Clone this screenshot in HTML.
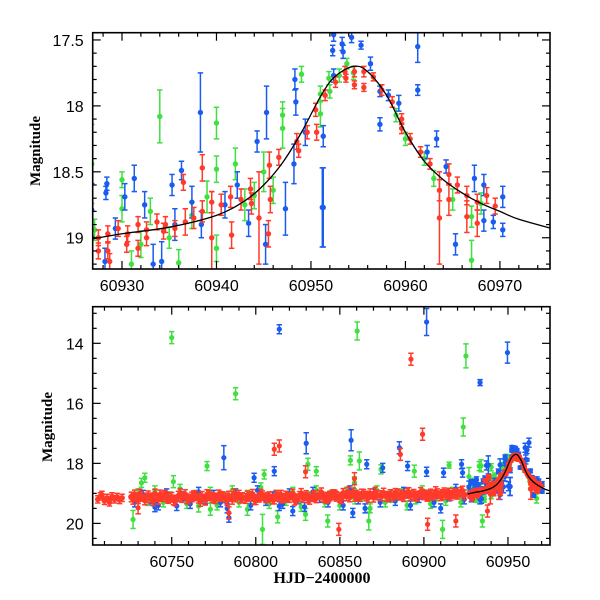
<!DOCTYPE html>
<html><head><meta charset="utf-8">
<style>
html,body{margin:0;padding:0;background:#fff;}
svg{display:block;}
text{font-family:"Liberation Sans",sans-serif;fill:#000;}
</style></head>
<body>
<svg id="chart" width="600" height="600" viewBox="0 0 600 600" xmlns="http://www.w3.org/2000/svg">
<defs>
<clipPath id="clipTop"><rect x="92.7" y="32.7" width="457.3" height="236.3"/></clipPath>
<clipPath id="clipBot"><rect x="92.7" y="306.7" width="457.3" height="238.3"/></clipPath>
</defs>
<g id="topPanel"></g>
<g id="botPanel"></g>
<text x="0" y="0" transform="translate(40,151) rotate(-90)" text-anchor="middle" style="font-family:'Liberation Serif',serif;font-weight:bold;font-size:15px">Magnitude</text>
<text x="0" y="0" transform="translate(52,427) rotate(-90)" text-anchor="middle" style="font-family:'Liberation Serif',serif;font-weight:bold;font-size:15px">Magnitude</text>
<text x="322" y="583" text-anchor="middle" style="font-family:'Liberation Serif',serif;font-weight:bold;font-size:16px">HJD−2400000</text>
</svg>
<script>
// ---------- data: top panel (zoom) ----------
const greenDays=[60926.8,60927.1,60930,60930,60931,60932,60933,60934,60935,60936,60937.4,60939,60940,60940,60940,60942,60943,60944,60945,60946,60947,60947,60949,60951,60951,60951.9,60952,60953,60953.8,60954.5,60959,60960,60962,60963,60965,60967,60967,60968];
const greenMags=[18.44,18.94,18.56,18.78,19.2,19.05,18.8,18.08,19.0,19.19,18.83,18.69,18.13,18.48,19.08,18.44,18.75,18.68,18.5,18.64,18.07,18.17,17.76,17.91,18.06,17.79,17.89,17.77,17.68,17.75,18.07,18.25,18.4,18.55,18.71,18.84,19.17,18.74];
const greenErrs=[0.3,0.08,0.06,0.1,0.1,0.1,0.1,0.2,0.08,0.1,0.1,0.12,0.12,0.1,0.1,0.12,0.12,0.1,0.15,0.1,0.1,0.15,0.06,0.06,0.1,0.05,0.05,0.05,0.04,0.05,0.05,0.05,0.05,0.06,0.08,0.08,0.15,0.08];

const blueDays=[60926.8,60928.2,60928.3,60928.4,60929.3,60930.3,60931.3,60932.4,60933.3,60934.2,60935.3,60935.6,60936.3,60937.4,60938.3,60938.4,60940.9,60942.2,60943.4,60944.3,60945.2,60945.3,60947.3,60948.2,60948.3,60948.4,60949.4,60951.2,60951.3,60951.3,60952.3,60952.4,60952.4,60953.3,60953.4,60954.3,60955.3,60956.3,60957.3,60957.3,60958.2,60959.3,60961.3,60961.3,60962.3,60963.3,60964.3,60965.3,60967.3,60968.3,60968.3,60969.3,60970.3,60970.3];
const blueMags=[18.79,19.18,18.66,18.59,18.93,18.69,18.55,18.75,19.2,19.18,18.6,18.9,18.49,18.73,18.05,18.9,18.75,18.6,18.89,18.27,19.05,18.05,18.78,18.44,17.8,17.97,18.2,18.77,18.23,18.77,17.58,17.46,17.77,17.53,17.59,17.48,17.54,17.68,18.14,17.89,17.92,17.98,17.88,17.55,18.35,18.25,18.46,19.05,18.55,18.6,18.87,18.88,18.69,18.94];
const blueErrs=[0.2,0.1,0.05,0.05,0.08,0.1,0.1,0.1,0.15,0.15,0.08,0.12,0.07,0.12,0.3,0.1,0.1,0.1,0.1,0.08,0.15,0.2,0.2,0.15,0.08,0.1,0.1,0.3,0.08,0.3,0.04,0.05,0.05,0.05,0.05,0.04,0.03,0.05,0.05,0.04,0.04,0.06,0.04,0.12,0.05,0.06,0.05,0.08,0.1,0.08,0.08,0.05,0.08,0.05];

const redDays=[60927.5,60927.5,60928.5,60928.5,60928.7,60929.6,60930.5,60930.6,60931.7,60931.7,60932.6,60932.6,60933.7,60934.4,60934.6,60935.6,60936.5,60936.7,60937.6,60938.5,60938.5,60939.5,60939.5,60940.5,60941.5,60941.6,60942.6,60943.6,60943.7,60944.5,60945.5,60945.6,60945.7,60946.6,60948.5,60948.7,60949.6,60950.5,60950.6,60951.5,60952.6,60953.6,60953.7,60954.6,60954.6,60955.6,60955.6,60956.6,60957.5,60958.6,60959.6,60959.6,60960.5,60961.6,60962.6,60963.6,60963.6,60964.6,60964.6,60965.5,60966.5,60966.5,60967.6,60967.6,60968.6,60969.5];
const redMags=[19.0,19.1,18.97,19.1,19.18,18.93,19.05,18.97,18.9,19.08,18.94,19.0,18.88,18.95,18.9,18.93,18.58,18.88,18.85,18.47,18.8,18.73,19.0,18.75,18.69,18.98,18.71,18.63,18.74,18.85,18.97,18.45,18.71,18.39,18.27,18.34,18.2,18.03,18.2,17.92,17.82,17.74,17.79,17.74,17.84,17.74,17.86,17.78,17.88,17.97,18.1,18.17,18.25,18.35,18.44,18.64,18.85,18.52,18.71,18.6,18.68,18.84,18.73,18.89,18.68,18.76];
const redErrs=[0.06,0.06,0.06,0.06,0.06,0.06,0.06,0.06,0.06,0.06,0.06,0.06,0.06,0.06,0.06,0.06,0.06,0.1,0.08,0.1,0.08,0.08,0.35,0.08,0.08,0.1,0.08,0.08,0.08,0.35,0.1,0.1,0.1,0.06,0.06,0.05,0.05,0.05,0.06,0.04,0.04,0.04,0.03,0.04,0.03,0.04,0.03,0.03,0.04,0.04,0.04,0.04,0.04,0.04,0.04,0.08,0.35,0.08,0.12,0.06,0.07,0.12,0.06,0.1,0.06,0.06];

// model curve (day, mag)
const curveDays=[60926,60930,60935,60940,60943,60945,60947,60949,60951,60952.5,60954.5,60956,60958,60960,60962,60964,60966,60968,60970,60972,60976];
const curveMags=[19.02,18.97,18.92,18.83,18.72,18.6,18.43,18.2,17.93,17.78,17.70,17.74,17.92,18.20,18.42,18.56,18.66,18.74,18.80,18.86,18.94];

// ---------- data: bottom panel extra (full season) ----------
const redBandStart=60726, redBandStep=2;
const redBandMags=[19.12,19.05,19.18,19.10,19.22,19.08,19.15,19.02,19.20,19.11,19.06,19.17,19.13,19.25,19.09,19.14,19.04,19.19,19.12,19.08,19.16,19.10,19.23,19.07,19.13,19.18,19.05,19.11,19.15,19.09,19.20,19.12,19.06,19.14,19.17,19.10,19.03,19.21,19.13,19.08,19.15,19.11,19.19,19.06,19.12,19.16,19.09,19.14,19.02,19.18,19.10,19.13,19.07,19.20,19.11,19.15,19.05,19.12,19.17,19.09,19.04,19.10,19.14,19.00,19.08,19.12,18.98,19.06,19.11,19.03,19.09,19.01,19.13,19.05,19.07,18.99,19.10,19.04,19.08,19.02,19.06,19.11,19.00,19.07,19.03,19.09,18.97,19.05,19.10,19.02,19.06,19.01,19.08,18.98,19.04,19.07,19.00,19.03,18.96,19.05];
const redBand2Start=60727, redBand2Step=4;
const redBand2Mags=[19.20,19.02,19.15,19.25,19.05,19.12,19.22,19.00,19.18,19.08,19.27,19.04,19.15,19.10,19.24,19.01,19.16,19.09,19.21,19.03,19.14,19.19,19.06,19.12,19.23,19.00,19.15,19.07,18.98,19.13,19.05,19.18,18.95,19.10,19.02,19.14,18.96,19.08,19.12,19.00,19.06,18.97,19.09,19.03,19.07,18.94,19.04,18.99,19.02,18.92];
const redEarlyDays=[60706,60707.5,60708.5,60710,60711.5,60713,60714.5,60716,60717.5,60719,60720.5];
const redEarlyMags=[19.2,19.1,19.05,19.25,19.15,19.3,19.1,19.2,19.12,19.22,19.15];
const blueBandDays=[60728,60733,60738,60742,60747,60752,60757,60761,60766,60770,60775,60779,60783,60788,60792,60797,60801,60806,60810,60816,60820,60825,60829,60834,60838,60843,60847,60852,60856,60861,60865,60870,60874,60879,60883,60888,60892,60897,60901,60906,60910,60915,60919,60924];
const blueBandMags=[19.3,19.05,19.2,19.4,19.0,19.25,19.1,19.35,18.95,19.2,19.05,19.3,19.5,19.0,19.15,19.4,18.9,19.25,19.1,19.35,19.0,19.2,19.45,18.95,19.15,19.3,19.05,19.4,18.9,19.2,19.5,19.0,19.3,19.1,19.25,18.95,19.4,19.15,19.05,19.3,19.5,19.1,18.85,19.2];
const greenBandDays=[60730,60736,60740,60745,60749,60755,60759,60764,60768,60773,60777,60781,60786,60790,60795,60799,60803,60808,60812,60818,60822,60827,60832,60836,60841,60845,60850,60854,60859,60863,60868,60872,60877,60881,60886,60890,60895,60899,60904,60908,60913,60917,60922];
const greenBandMags=[19.0,19.25,18.9,19.3,19.1,18.85,19.35,19.05,19.2,18.95,19.4,19.1,18.9,19.3,19.05,19.2,18.8,19.35,19.1,19.25,18.95,19.45,19.1,18.9,19.3,19.05,19.4,18.95,19.2,19.1,19.5,18.9,19.3,19.15,19.0,19.4,19.2,18.9,19.35,19.1,19.25,18.95,19.3];
const greenOutDays=[60727,60732,60734,60750,60751,60766,60771,60773,60788,60795,60804,60805,60813,60829.6,60831,60836,60842.8,60856.3,60858.7,60860.3,60861.6,60867.2,60874.5,60894.3,60911.1,60915,60923.4,60925,60932.9,60934.8];
const greenOutMags=[19.87,18.65,18.48,13.81,18.61,19.42,18.09,19.53,15.68,19.53,20.2,18.37,19.78,19.7,18.03,18.26,19.92,17.9,18.65,13.59,17.92,19.92,18.2,18.26,20.2,18.06,16.79,14.42,18.09,19.92];
const greenOutErrs=[0.3,0.15,0.15,0.2,0.2,0.2,0.15,0.2,0.2,0.2,0.5,0.15,0.2,0.2,0.2,0.15,0.2,0.15,0.2,0.3,0.3,0.3,0.15,0.2,0.3,0.1,0.3,0.4,0.15,0.2];
const blueOutDays=[60740,60753,60781,60784,60799,60811,60814,60814,60822,60830,60856.7,60857.7,60866,60875.5,60885.4,60890.3,60901.6,60901.6,60911.7,60922.4,60923,60933.4,60937.2,60949.7,60950.3,60960.2,60960.6,60962.5];
const blueOutMags=[19.46,19.42,17.81,19.81,18.48,18.26,13.53,19.42,19.59,17.33,17.23,19.65,18.03,18.15,17.48,18.09,13.29,18.28,18.31,18.03,18.31,15.31,18.07,14.31,18.76,17.48,17.87,17.31];
const blueOutErrs=[0.15,0.15,0.4,0.15,0.15,0.15,0.15,0.15,0.15,0.35,0.35,0.15,0.15,0.15,0.2,0.15,0.45,0.15,0.15,0.15,0.15,0.1,0.15,0.35,0.15,0.15,0.15,0.15];
const redOutDays=[60730,60784,60811,60814,60829.6,60849.4,60858.7,60886,60892.3,60899.2,60902.2,60919,60937.8];
const redOutMags=[19.48,19.65,17.53,17.42,18.28,20.2,18.51,17.7,14.53,17.03,20.03,19.92,19.59];

// tick labels
const topXTicks=[60930,60940,60950,60960,60970];
const topYTicks=[17.5,18,18.5,19];
const botXTicks=[60750,60800,60850,60900,60950];
const botYTicks=[14,16,18,20];

const NS="http://www.w3.org/2000/svg";
const COLORS={green:"#3fe03f",blue:"#1a5cf0",red:"#ff3a2a"};
function mk(tag,attrs,parent){const e=document.createElementNS(NS,tag);for(const k in attrs)e.setAttribute(k,attrs[k]);parent.appendChild(e);return e;}

function makePanel(g,cfg){
  const sx=d=>cfg.x0+(d-cfg.dmin)/(cfg.dmax-cfg.dmin)*(cfg.x1-cfg.x0);
  const sy=m=>cfg.y0+(m-cfg.mmin)/(cfg.mmax-cfg.mmin)*(cfg.y1-cfg.y0);
  return {sx,sy};
}

function drawPoints(g,ax,days,mags,errs,color,name,r,defErr){
  for(let i=0;i<days.length;i++){
    const x=ax.sx(days[i]),y=ax.sy(mags[i]);
    const e=(errs&&errs[i]!==undefined)?errs[i]:defErr;
    const y1=ax.sy(mags[i]-e),y2=ax.sy(mags[i]+e);
    const pg=mk('g',{},g);
    
    
    mk('line',{x1:x,y1:y1,x2:x,y2:y2,stroke:color,'stroke-width':1.5},pg);
    mk('line',{x1:x-2.7,y1:y1,x2:x+2.7,y2:y1,stroke:color,'stroke-width':1.5},pg);
    mk('line',{x1:x-2.7,y1:y2,x2:x+2.7,y2:y2,stroke:color,'stroke-width':1.5},pg);
    mk('circle',{cx:x,cy:y,r:r,fill:color},pg);
  }
}

function drawCurve(g,ax){
  const pts=curveDays.map((d,i)=>[ax.sx(d),ax.sy(curveMags[i])]);
  let p="M"+pts[0][0]+","+pts[0][1];
  for(let i=0;i<pts.length-1;i++){
    const p0=pts[i-1]||pts[i],p1=pts[i],p2=pts[i+1],p3=pts[i+2]||p2;
    const c1=[p1[0]+(p2[0]-p0[0])/6,p1[1]+(p2[1]-p0[1])/6];
    const c2=[p2[0]-(p3[0]-p1[0])/6,p2[1]-(p3[1]-p1[1])/6];
    p+=" C"+c1[0]+","+c1[1]+" "+c2[0]+","+c2[1]+" "+p2[0]+","+p2[1];
  }
  const c=mk('path',{d:p,fill:'none',stroke:'#000','stroke-width':1.3},g);
  
  
}

function drawAxes(g,cfg,ax,xMajor,xMinor,yMajor,yMinor,xTicks,yTicks,yFmt,prefix){
  const fr=mk('rect',{x:cfg.x0,y:cfg.y0,width:cfg.x1-cfg.x0,height:cfg.y1-cfg.y0,fill:'none',stroke:'#000','stroke-width':1.6},g);
  
  
  const tg=mk('g',{stroke:'#000','stroke-width':1.2},g);
  
  
  const eps=1e-6;
  for(let d=Math.ceil(cfg.dmin/xMinor)*xMinor;d<=cfg.dmax;d+=xMinor){
    const x=ax.sx(d);const maj=Math.abs(d/xMajor-Math.round(d/xMajor))<eps;const L=maj?8:4;
    mk('line',{x1:x,y1:cfg.y1,x2:x,y2:cfg.y1-L},tg);
    mk('line',{x1:x,y1:cfg.y0,x2:x,y2:cfg.y0+L},tg);
  }
  const mStart=Math.ceil(cfg.mmin/yMinor-eps)*yMinor;
  for(let k=0;;k++){
    const m=mStart+k*yMinor; if(m>cfg.mmax)break;
    const y=ax.sy(m);const maj=Math.abs(m/yMajor-Math.round(m/yMajor))<1e-4;const L=maj?8:4;
    mk('line',{x1:cfg.x0,y1:y,x2:cfg.x0+L,y2:y},tg);
    mk('line',{x1:cfg.x1,y1:y,x2:cfg.x1-L,y2:y},tg);
  }
  xTicks.forEach(v=>{
    const t=mk('text',{x:ax.sx(v),y:cfg.y1+22,'text-anchor':'middle','font-size':'16'},g);
    t.textContent=v;
    
    
  });
  yTicks.forEach(v=>{
    const t=mk('text',{x:cfg.x0-9,y:ax.sy(v)+6,'text-anchor':'end','font-size':'16'},g);
    t.textContent=yFmt(v);
    
    
  });
}

// ----- top panel -----
const topCfg={x0:92.7,x1:550,y0:32.7,y1:269,dmin:60926.9,dmax:60975.3,mmin:17.445,mmax:19.237};
const topG=document.getElementById('topPanel');
const topAx=makePanel(topG,topCfg);
const topData=mk('g',{'clip-path':'url(#clipTop)'},topG);


drawPoints(topData,topAx,greenDays,greenMags,greenErrs,COLORS.green,'green-band',2.7,0.08);
drawPoints(topData,topAx,blueDays,blueMags,blueErrs,COLORS.blue,'blue-band',2.7,0.08);
drawPoints(topData,topAx,redDays,redMags,redErrs,COLORS.red,'red-band',2.7,0.06);
drawCurve(topData,topAx);
drawAxes(topG,topCfg,topAx,10,2,0.5,0.1,topXTicks,topYTicks,v=>String(v),'top');

// ----- bottom panel -----
const botCfg={x0:92.7,x1:550,y0:306.7,y1:545,dmin:60703,dmax:60975,mmin:12.78,mmax:20.72};
const botG=document.getElementById('botPanel');
const botAx=makePanel(botG,botCfg);
const botData=mk('g',{'clip-path':'url(#clipBot)'},botG);


const redBandDays=redBandMags.map((m,i)=>redBandStart+i*redBandStep);
const redBand2Days=redBand2Mags.map((m,i)=>redBand2Start+i*redBand2Step);
drawPoints(botData,botAx,greenBandDays,greenBandMags,null,COLORS.green,'green-band',2.6,0.15);
drawPoints(botData,botAx,greenOutDays,greenOutMags,greenOutErrs,COLORS.green,'green-outlier',2.6,0.2);
drawPoints(botData,botAx,greenDays,greenMags,greenErrs,COLORS.green,'green-band',2.6,0.08);
drawPoints(botData,botAx,blueBandDays,blueBandMags,null,COLORS.blue,'blue-band',2.6,0.15);
drawPoints(botData,botAx,blueOutDays,blueOutMags,blueOutErrs,COLORS.blue,'blue-outlier',2.6,0.15);
drawPoints(botData,botAx,blueDays,blueMags,blueErrs,COLORS.blue,'blue-band',2.6,0.08);
drawPoints(botData,botAx,redEarlyDays,redEarlyMags,null,COLORS.red,'red-band',2.8,0.12);
drawPoints(botData,botAx,redBand2Days,redBand2Mags,null,COLORS.red,'red-band',3.0,0.16);
drawPoints(botData,botAx,redBandDays,redBandMags,null,COLORS.red,'red-band',3.2,0.16);
drawPoints(botData,botAx,redOutDays,redOutMags,null,COLORS.red,'red-outlier',2.6,0.2);
drawPoints(botData,botAx,redDays,redMags,redErrs,COLORS.red,'red-band',3.0,0.1);
drawCurve(botData,botAx);
drawAxes(botG,botCfg,botAx,50,10,2,0.5,botXTicks,botYTicks,v=>String(v),'bottom');
</script>
</body></html>
